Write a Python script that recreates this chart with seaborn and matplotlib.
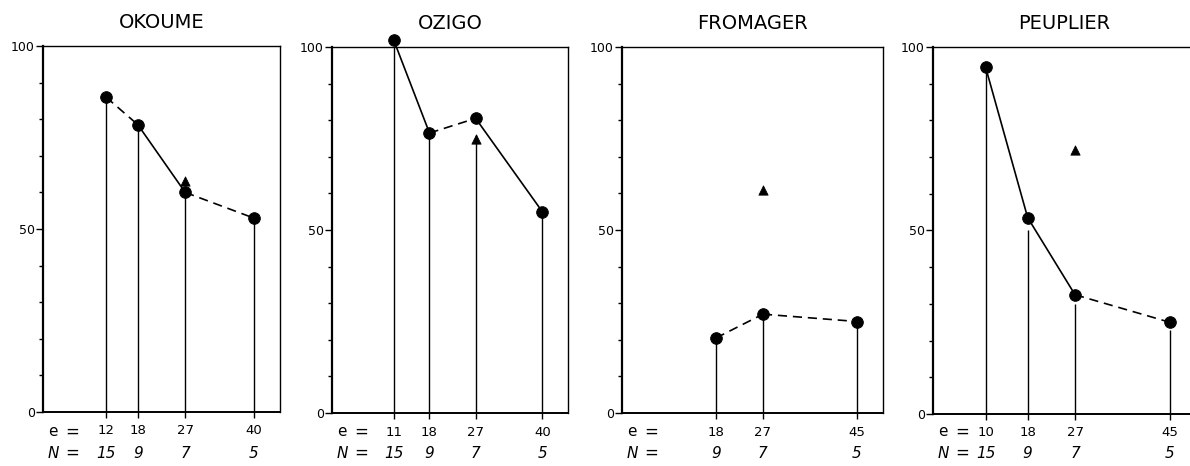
import numpy as np
import pandas as pd
import matplotlib
matplotlib.use("Agg")
import matplotlib.pyplot as plt
import seaborn as sb

# Data
titles = ["OKOUME", "OZIGO", "FROMAGER", "PEUPLIER"]

okoume_e = [12, 18, 27, 40]
okoume_N = [15, 9, 7, 5]
okoume_circle = [86, 78.5, 60, 53]
okoume_stem = [86, 78.5, 60, 53]
okoume_tri = [63]
okoume_seg = ["dashed", "solid", "dashed"]

ozigo_e = [11, 18, 27, 40]
ozigo_N = [15, 9, 7, 5]
ozigo_circle = [102, 76.5, 80.5, 55]
ozigo_stem = [102, 76.5, 76, 55]
ozigo_tri = [75]
ozigo_seg = ["solid", "dashed", "solid"]

fromager_e = [18, 27, 45]
fromager_N = [9, 7, 5]
fromager_circle = [20.5, 27, 25]
fromager_stem = [20.5, 27, 25]
fromager_tri = [61]
fromager_seg = ["dashed", "dashed"]

peuplier_e = [10, 18, 27, 45]
peuplier_N = [15, 9, 7, 5]
peuplier_circle = [94.5, 53.5, 32.5, 25]
peuplier_stem = [94.5, 50, 30, 23]
peuplier_tri = [72]
peuplier_seg = ["solid", "solid", "dashed"]

panels = [
    (okoume_e, okoume_N, okoume_circle, okoume_stem, okoume_tri, okoume_seg),
    (ozigo_e, ozigo_N, ozigo_circle, ozigo_stem, ozigo_tri, ozigo_seg),
    (fromager_e, fromager_N, fromager_circle, fromager_stem, fromager_tri, fromager_seg),
    (peuplier_e, peuplier_N, peuplier_circle, peuplier_stem, peuplier_tri, peuplier_seg),
]

# Layout in pixels: left, right, top, bottom, xlim
W, H = 1190, 466
boxes = [(43, 280, 46, 412, (0, 45)),
         (332, 568, 47, 413, (-1, 45)),
         (622, 883, 47, 413, (0, 50)),
         (933, 1196, 47, 414, (0, 50))]

sb.set_style("ticks")
plt.rcParams['font.family'] = ['DejaVu Sans']
plt.rcParams['text.color'] = 'black'
plt.rcParams['xtick.color'] = 'black'
plt.rcParams['ytick.color'] = 'black'
plt.rcParams['axes.titlecolor'] = 'black'

fig = plt.figure(figsize=(W / 100, H / 100), dpi=100)

for k, ((e, N, circ, stem, tri, seg), title, (l, r, t, b, xl)) in enumerate(
        zip(panels, titles, boxes)):
    ax = fig.add_axes([l / W, (H - b) / H, (r - l) / W, (b - t) / H])

    # Stems
    ax.vlines(e, 0, stem, color="black", lw=1.0, zorder=2)

    # Connecting segments
    rows = []
    for i, kind in enumerate(seg):
        rows.append({"seg": i, "e": e[i], "v": circ[i], "kind": kind})
        rows.append({"seg": i, "e": e[i + 1], "v": circ[i + 1], "kind": kind})
    seg_df = pd.DataFrame(rows)
    sb.lineplot(data=seg_df, x="e", y="v", units="seg", style="kind",
                estimator=None, sort=False, color="black", lw=1.2,
                dashes={"solid": "", "dashed": (5.5, 3.5)}, legend=False,
                ax=ax, clip_on=False, zorder=3)

    # Circles
    sb.scatterplot(x=e, y=circ, color="black", s=70, marker="o",
                   edgecolor="black", ax=ax, clip_on=False, zorder=4)
    # Triangle at e = 27
    sb.scatterplot(x=[27] * len(tri), y=tri, color="black", s=45, marker="^",
                   edgecolor="black", ax=ax, clip_on=False, zorder=4)

    ax.set_xlim(*xl)
    ax.set_ylim(0, 100)
    ax.set_yticks([0, 50, 100])
    ax.set_yticks(np.arange(0, 101, 10), minor=True)
    ax.tick_params(axis="y", which="major", length=5, width=1, labelsize=9, pad=1)
    ax.tick_params(axis="y", which="minor", length=3, width=1)
    ax.set_xticks(e)
    ax.set_xticklabels([str(v) for v in e])
    ax.tick_params(axis="x", length=4, width=1, labelsize=9.5, pad=5)
    ax.set_xlabel("")
    ax.set_ylabel("")

    for sp in ax.spines.values():
        sp.set_visible(True)
        sp.set_linewidth(1.0)
        sp.set_color("black")
    ax.spines["left"].set_linewidth(1.6)
    ax.spines["bottom"].set_linewidth(1.4)
    if k == 3:
        ax.spines["right"].set_visible(False)

    ax.set_title(title, fontsize=14, pad=13)

    # N row
    n_y = (b - 453) / (b - t)
    for x, n in zip(e, N):
        ax.text(x, n_y, str(n), transform=ax.get_xaxis_transform(),
                ha="center", va="center", fontsize=11, style="italic")

    # Row labels
    fig.text((l + 10) / W, 1 - 432 / H, "e", ha="center", va="center", fontsize=11)
    fig.text((l + 29) / W, 1 - 432 / H, "=", ha="center", va="center", fontsize=12)
    fig.text((l + 10) / W, 1 - 453 / H, "N", ha="center", va="center",
             fontsize=11, style="italic")
    fig.text((l + 29) / W, 1 - 453 / H, "=", ha="center", va="center", fontsize=12)

fig.savefig("out.png", dpi=100)
